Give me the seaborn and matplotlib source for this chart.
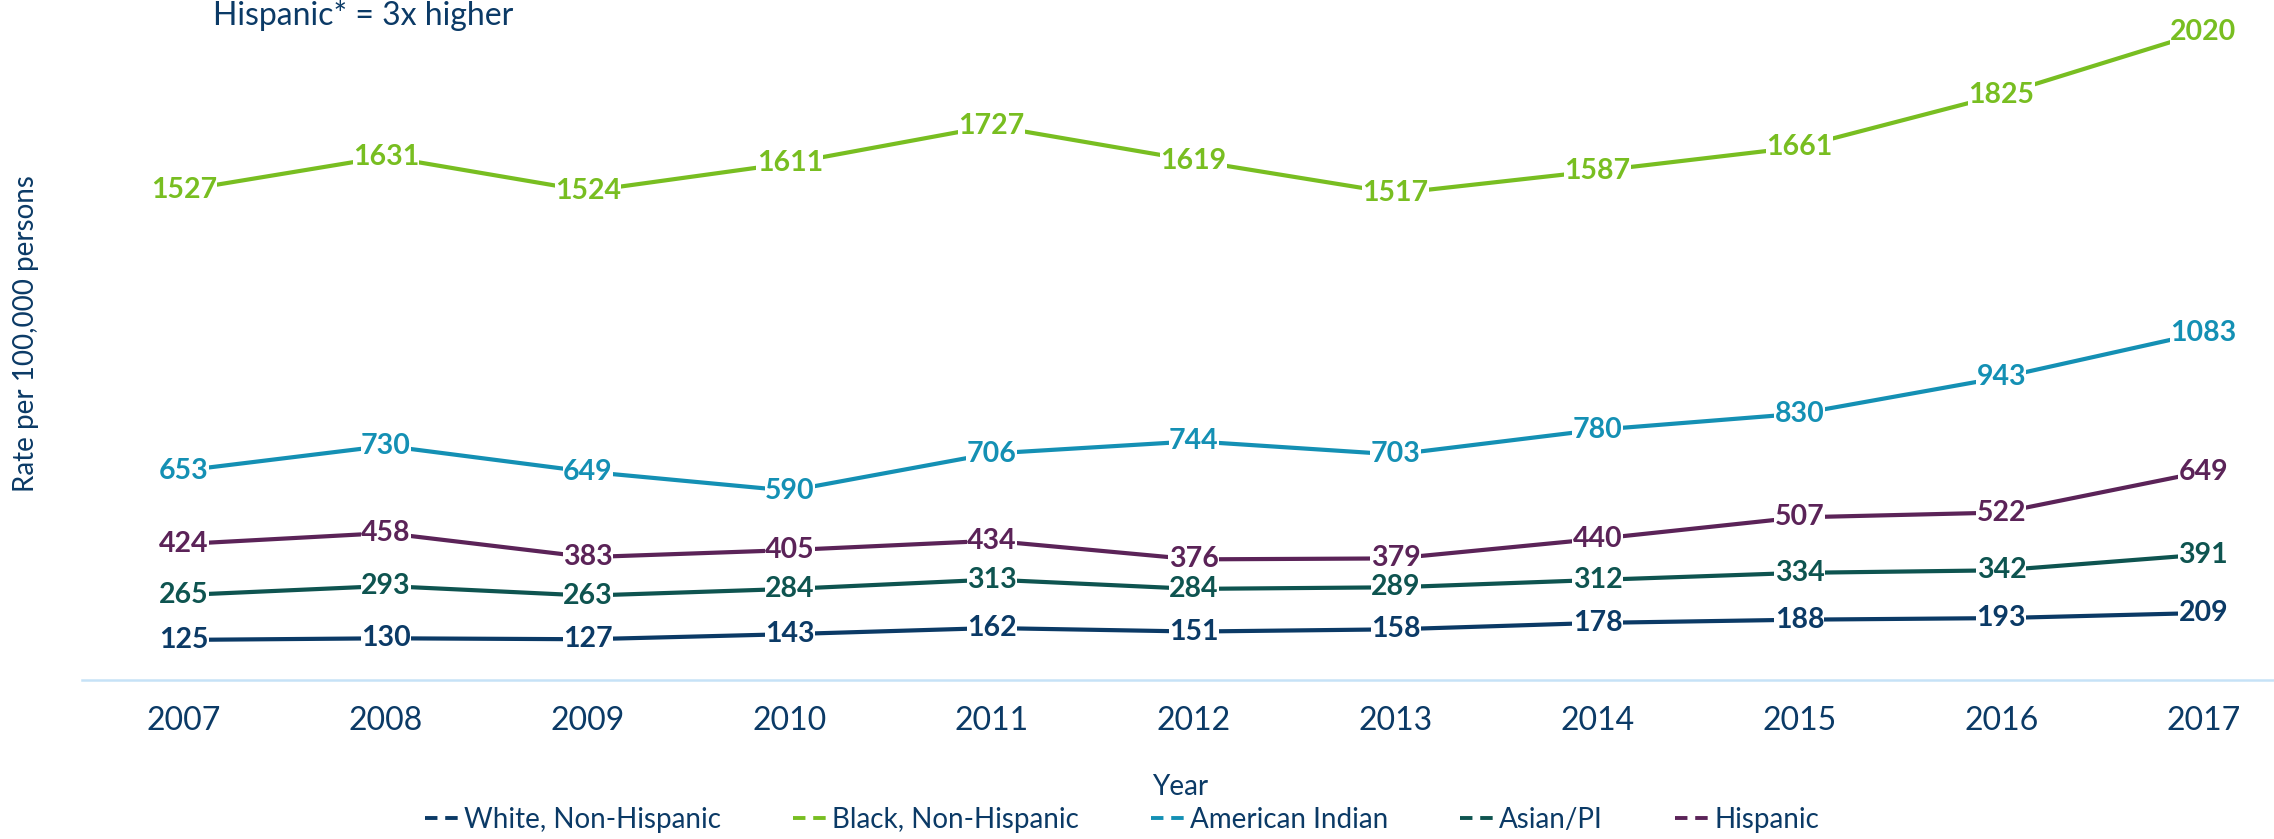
import pandas as pd
import matplotlib.pyplot as plt
import seaborn as sns
from matplotlib.lines import Line2D

years = [2007, 2008, 2009, 2010, 2011, 2012, 2013, 2014, 2015, 2016, 2017]
white = [125, 130, 127, 143, 162, 151, 158, 178, 188, 193, 209]
black = [1527, 1631, 1524, 1611, 1727, 1619, 1517, 1587, 1661, 1825, 2020]
american_indian = [653, 730, 649, 590, 706, 744, 703, 780, 830, 943, 1083]
asian_pi = [265, 293, 263, 284, 313, 284, 289, 312, 334, 342, 391]
hispanic = [424, 458, 383, 405, 434, 376, 379, 440, 507, 522, 649]

groups = ["White, Non-Hispanic", "Black, Non-Hispanic", "American Indian", "Asian/PI", "Hispanic"]
colors = ["#0B3A66", "#78BE21", "#1490B4", "#0E5450", "#5B2358"]
NAVY = "#0B3A66"


def build_frame():
    series = [white, black, american_indian, asian_pi, hispanic]
    rows = []
    for name, vals in zip(groups, series):
        for y, v in zip(years, vals):
            rows.append({"Year": y, "Rate": v, "Group": name})
    return pd.DataFrame(rows)


def main():
    df = build_frame()
    sns.set_style("white")
    plt.rcParams["font.family"] = ["Lato", "DejaVu Sans"]

    fig = plt.figure(figsize=(22.74, 8.39), dpi=100)
    ax = fig.add_axes([82 / 2274, 159 / 839, 1 - 82 / 2274, 692 / 839])

    palette = dict(zip(groups, colors))
    sns.lineplot(data=df, x="Year", y="Rate", hue="Group", palette=palette,
                 linewidth=3, legend=False, ax=ax)

    # value labels sitting on the line with a white box
    for name, color in zip(groups, colors):
        sub = df[df["Group"] == name]
        for _, r in sub.iterrows():
            ax.text(r["Year"], r["Rate"], f"{r['Rate']}", color=color, fontsize=20.5,
                    fontweight="bold", ha="center", va="center", zorder=5,
                    bbox=dict(facecolor="white", edgecolor="none", pad=0.3))

    ax.set_xlim(2006.495, 2017.35)
    ax.set_ylim(0, 2157)
    ax.set_xticks(years)
    ax.set_xticklabels([str(y) for y in years], fontsize=23, color=NAVY)
    ax.set_yticks([])
    ax.tick_params(axis="x", length=0, pad=19)
    for s in ["top", "right", "left"]:
        ax.spines[s].set_visible(False)
    ax.spines["bottom"].set_color("#C6E2F7")
    ax.spines["bottom"].set_linewidth(1.8)

    ax.set_xlabel("")
    ax.set_ylabel("")
    fig.text(1180 / 2274, 1 - 787 / 839, "Year", fontsize=20, color=NAVY, ha="center", va="center")
    fig.text(26 / 2274, 1 - 334 / 839, "Rate per 100,000 persons", fontsize=20, color=NAVY,
             rotation=90, ha="center", va="center")
    fig.text(213 / 2274, 1 - 25 / 839, "Hispanic* = 3x higher", fontsize=23, color=NAVY,
             ha="left", va="baseline")

    handles = [Line2D([0], [0], color=c, linewidth=2.8, linestyle=(0, (3.2, 2))) for c in colors]
    leg = fig.legend(handles, groups, loc="center", bbox_to_anchor=(1122 / 2274, 1 - 820 / 839),
                     ncol=5, frameon=False, fontsize=20, handlelength=1.2, handletextpad=0.2,
                     columnspacing=2.6)
    for t in leg.get_texts():
        t.set_color(NAVY)

    fig.savefig("out.png", dpi=100)


if __name__ == "__main__":
    main()
